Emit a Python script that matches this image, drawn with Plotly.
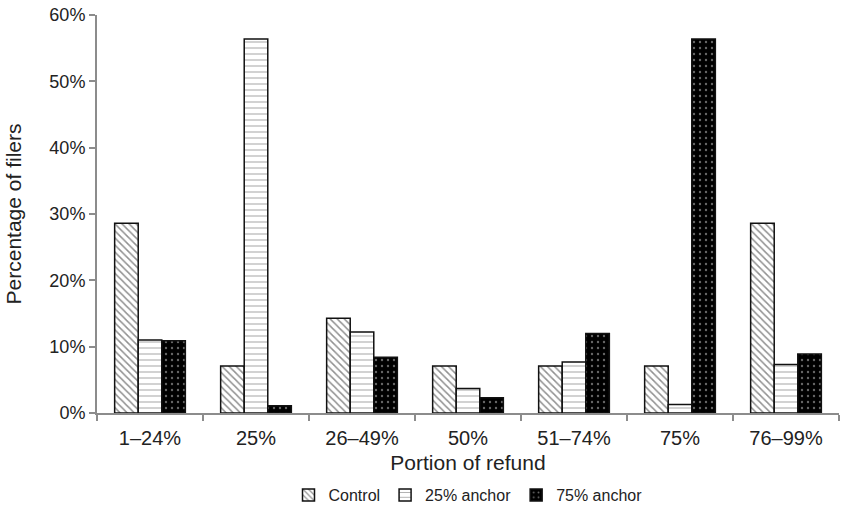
import plotly.graph_objects as go

categories = ["1–24%", "25%", "26–49%", "50%", "51–74%", "75%", "76–99%"]
control = [28.6, 7.1, 14.3, 7.1, 7.1, 7.1, 28.6]
anchor25 = [11.0, 56.4, 12.2, 3.7, 7.7, 1.3, 7.3]
anchor75 = [10.9, 1.1, 8.4, 2.3, 12.0, 56.4, 8.9]
y_ticks = [0, 10, 20, 30, 40, 50, 60]
y_tick_labels = ["0%", "10%", "20%", "30%", "40%", "50%", "60%"]

FONT = "Liberation Sans, Arial, Helvetica, sans-serif"
AXIS_COLOR = "#8c8c8c"

fig = go.Figure()
fig.add_trace(go.Bar(
    name="Control", x=categories, y=control,
    marker=dict(color="white", line=dict(color="#111", width=1.5),
                pattern=dict(shape="\\", fgcolor="#222", bgcolor="white", size=5, solidity=0.3)),
))
fig.add_trace(go.Bar(
    name="25% anchor", x=categories, y=anchor25,
    marker=dict(color="white", line=dict(color="#111", width=1.5),
                pattern=dict(shape="-", fgcolor="#666", bgcolor="white", size=6, solidity=0.2)),
))
fig.add_trace(go.Bar(
    name="75% anchor", x=categories, y=anchor75,
    marker=dict(color="black", line=dict(color="#111", width=1.5),
                pattern=dict(shape=".", fgcolor="#cccccc", bgcolor="black", size=6, solidity=0.12)),
))

fig.update_layout(
    width=842, height=519,
    barmode="group", bargap=0.333, bargroupgap=0,
    plot_bgcolor="white", paper_bgcolor="white",
    margin=dict(l=97, r=3, t=15, b=106, autoexpand=False),
    font=dict(family=FONT, color="#222", size=20),
    showlegend=True,
    legend=dict(orientation="h", x=0.5, xanchor="center", y=-0.206, yanchor="middle",
                font=dict(size=16), itemwidth=30, traceorder="normal"),
    xaxis=dict(
        title=dict(text="Portion of refund", font=dict(size=21), standoff=7),
        automargin=False,
        showline=True, linecolor=AXIS_COLOR, linewidth=2,
        ticks="outside", tickson="boundaries", ticklen=6, tickcolor=AXIS_COLOR, tickwidth=2,
        tickfont=dict(size=20), ticklabelstandoff=6, showgrid=False,
    ),
    yaxis=dict(
        title=dict(text="Percentage of filers", font=dict(size=21), standoff=22),
        automargin=False,
        range=[0, 60], tickvals=y_ticks, ticktext=y_tick_labels,
        showline=True, linecolor=AXIS_COLOR, linewidth=2,
        ticks="outside", ticklen=6, tickcolor=AXIS_COLOR, tickwidth=2,
        tickfont=dict(size=18), showgrid=False, zeroline=False,
    ),
)

# remove the browser's default 8px body margin so the figure fills the window exactly
fig.write_html("out.html", config={"displayModeBar": False},
               post_script="document.body.style.margin='0';")
